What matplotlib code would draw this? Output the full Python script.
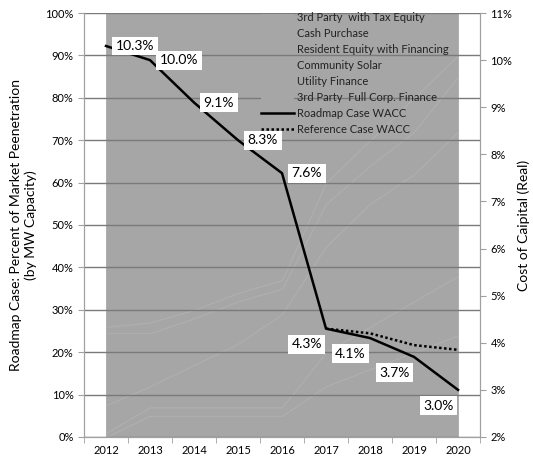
import matplotlib.pyplot as plt
from matplotlib.patches import Patch
from matplotlib.ticker import FuncFormatter
import numpy as np

plt.rcParams['font.family'] = ['Lato', 'DejaVu Sans']

years = ['2012', '2013', '2014', '2015', '2016', '2017', '2018', '2019', '2020']

# stacked market share (%), bottom to top
area_names = ['3rd Party  with Tax Equity', 'Cash Purchase',
              'Resident Equity with Financing', 'Community Solar',
              'Utility Finance', '3rd Party  Full Corp. Finance']
share_tax_equity = [0, 5, 5, 5, 5, 12, 16, 20, 24]
share_cash       = [1, 2, 2, 2, 2, 8, 10, 12, 14]
share_resident   = [6.5, 5, 10, 15, 22, 25, 29, 30, 34]
share_community  = [17, 12.5, 11, 10, 6, 10, 9, 10, 13]
share_utility    = [1.5, 2.5, 2, 2, 2, 5, 6, 8, 5]
share_full_corp  = [74, 73, 70, 66, 63, 40, 30, 20, 10]

# cost of capital (%)
roadmap_wacc   = [10.3, 10.0, 9.1, 8.3, 7.6, 4.3, 4.1, 3.7, 3.0]
reference_wacc = [np.nan, np.nan, np.nan, np.nan, np.nan, 4.3, 4.2, 3.95, 3.85]

x = np.arange(len(years))
fill = '#a6a6a6'

fig = plt.figure(figsize=(5.33, 4.63), dpi=100)
ax = fig.add_axes([0.1576, 0.0562, 0.7430, 0.9157])
ax2 = ax.twinx()

ax.stackplot(x, share_tax_equity, share_cash, share_resident, share_community,
             share_utility, share_full_corp,
             colors=[fill] * 6, edgecolor='#afafaf', linewidth=0.7)

ax.set_xlim(-0.5, len(years) - 0.5)
ax.set_ylim(0, 100)
ax.set_yticks(np.arange(0, 101, 10))
ax.yaxis.set_major_formatter(FuncFormatter(lambda v, p: f'{v:.0f}%'))
ax.set_axisbelow(False)
ax.grid(axis='y', color='#7a7a7a', linewidth=1)
ax.set_xticks(x)
ax.set_xticklabels(years)
ax.set_xticks(np.arange(-0.5, len(years), 1), minor=True)
ax.tick_params(axis='x', which='major', length=0, labelsize=8, pad=6)
ax.tick_params(axis='x', which='minor', length=4, color='#a0a0a0')
ax.tick_params(axis='y', length=4, color='#a0a0a0', labelsize=8)

ax2.set_ylim(2, 11)
ax2.set_yticks(np.arange(2, 12, 1))
ax2.yaxis.set_major_formatter(FuncFormatter(lambda v, p: f'{v:.0f}%'))
ax2.tick_params(axis='y', length=4, color='#a0a0a0', labelsize=8)

for a in (ax, ax2):
    a.spines['top'].set_visible(False)
    for s in ('left', 'right', 'bottom'):
        a.spines[s].set_color('#a0a0a0')

road, = ax2.plot(x, roadmap_wacc, color='black', linewidth=1.8,
                 label='Roadmap Case WACC')
ref, = ax2.plot(x, reference_wacc, color='black', linewidth=1.8,
                linestyle=(0, (1, 1)), label='Reference Case WACC')

box = dict(boxstyle='square,pad=0.25', facecolor='white', edgecolor='none')
for i, v in enumerate(roadmap_wacc):
    if i < 5:
        ax2.annotate(f'{v:.1f}%', (x[i], v), xytext=(7, 0), textcoords='offset points',
                     ha='left', va='center', fontsize=10, bbox=box)
    else:
        ax2.annotate(f'{v:.1f}%', (x[i], v), xytext=(-3, -7), textcoords='offset points',
                     ha='right', va='top', fontsize=10, bbox=box)

handles = [Patch(facecolor=fill, edgecolor='none') for _ in area_names] + [road, ref]
labels = area_names + ['Roadmap Case WACC', 'Reference Case WACC']
ax2.legend(handles, labels, loc='upper left', bbox_to_anchor=(0.435, 1.012),
           frameon=False, fontsize=8, handlelength=3.0, handletextpad=0.3,
           labelspacing=0.45, borderaxespad=0, labelcolor='#222222')

ax.set_ylabel('Roadmap Case: Percent of Market Peenetration\n(by MW Capacity)',
              fontsize=10, labelpad=6)
ax2.set_ylabel('Cost of Caipital (Real)', fontsize=10, labelpad=4)

fig.savefig('out.png', dpi=100)
